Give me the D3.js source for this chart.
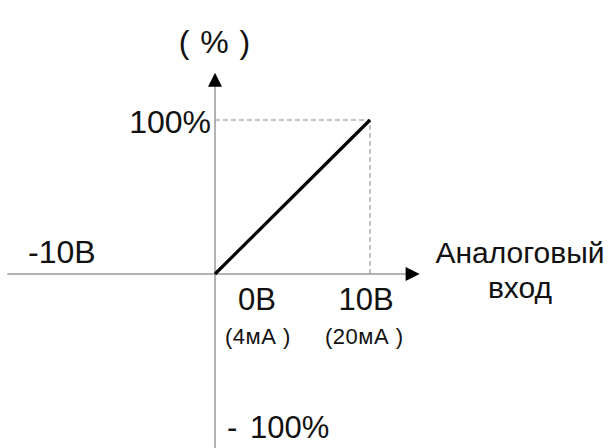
<!DOCTYPE html>
<html>
<head>
<meta charset="utf-8">
<script src="https://cdn.jsdelivr.net/npm/d3@7"></script>
<style>
  body { margin: 0; background: #fff; }
  text { font-family: "Liberation Sans", Arial, sans-serif; fill: #111; }
</style>
</head>
<body>
<svg id="chart"></svg>
<script>
// characteristic: analog input (V) -> output (%)
var inputV = [0, 10];
var outputPct = [0, 100];
var xAxisSpan = [-13.4, 13.2];   // volts
var yAxisSpan = [-113, 132];     // percent
var tickLabelsX = ["0В", "10В"];
var tickSubLabelsX = ["(4мА )", "(20мА )"];
var xAxisTitle = ["Аналоговый", "вход"];

var width = 609, height = 448;

var svg = d3.select("#chart")
            .attr("width", width)
            .attr("height", height);

var x = d3.scaleLinear().domain([0, 10]).range([215, 370]);
var y = d3.scaleLinear().domain([0, 100]).range([274, 120]);

var axisColor = "#9a9a9a";

// axes
svg.append("line")
   .attr("x1", x(xAxisSpan[0])).attr("x2", x(xAxisSpan[1]) - 12)
   .attr("y1", y(0)).attr("y2", y(0))
   .attr("stroke", axisColor).attr("stroke-width", 1.5);

svg.append("line")
   .attr("x1", x(0)).attr("x2", x(0))
   .attr("y1", y(yAxisSpan[0])).attr("y2", y(yAxisSpan[1]) + 12)
   .attr("stroke", axisColor).attr("stroke-width", 1.5);

// arrow heads
var xt = x(xAxisSpan[1]), yt = y(yAxisSpan[1]) + 2;
svg.append("path")
   .attr("d", "M" + xt + "," + y(0) + "L" + (xt - 14) + "," + (y(0) - 7) + "L" + (xt - 14) + "," + (y(0) + 7) + "Z")
   .attr("fill", "#000");
svg.append("path")
   .attr("d", "M" + x(0) + "," + yt + "L" + (x(0) - 7) + "," + (yt + 14) + "L" + (x(0) + 7) + "," + (yt + 14) + "Z")
   .attr("fill", "#000");

// dashed guides to the 100% point
var xmax = inputV[inputV.length - 1], ymax = outputPct[outputPct.length - 1];
svg.append("path")
   .attr("d", "M" + x(0) + "," + y(ymax) + "H" + x(xmax) + "V" + y(0))
   .attr("fill", "none")
   .attr("stroke", "#8a8a8a")
   .attr("stroke-width", 1)
   .attr("stroke-dasharray", "5,3");

// characteristic line
var line = d3.line()
             .x(function(d, i) { return x(inputV[i]); })
             .y(function(d) { return y(d); });

svg.append("path")
   .datum(outputPct)
   .attr("d", line)
   .attr("fill", "none")
   .attr("stroke", "#000")
   .attr("stroke-width", 3.2);

// labels
svg.append("text")
   .attr("x", x(0)).attr("y", 53)
   .attr("text-anchor", "middle")
   .style("font-size", "32px")
   .style("letter-spacing", "1px")
   .text("( % )");

svg.append("text")
   .attr("x", x(0) - 4).attr("y", y(100) + 13)
   .attr("text-anchor", "end")
   .style("font-size", "32px")
   .text("100%");

var neg = svg.append("text")
   .attr("y", y(-100) + 10)
   .style("font-size", "31px");
neg.append("tspan").attr("x", x(0) + 12).text("-");
neg.append("tspan").attr("x", x(0) + 35).text("100%");

svg.append("text")
   .attr("x", 28).attr("y", y(0) - 11)
   .style("font-size", "32px")
   .text("-10В");

svg.selectAll(".tick-main")
   .data(tickLabelsX)
   .enter().append("text")
   .attr("class", "tick-main")
   .attr("x", function(d, i) { return x(inputV[i]) + (i == 0 ? 42 : -4); })
   .attr("y", y(0) + 36)
   .attr("text-anchor", "middle")
   .style("font-size", "31px")
   .text(function(d) { return d; });

svg.selectAll(".tick-sub")
   .data(tickSubLabelsX)
   .enter().append("text")
   .attr("class", "tick-sub")
   .attr("x", function(d, i) { return x(inputV[i]) + (i == 0 ? 10 : -45); })
   .attr("y", y(0) + 70)
   .style("font-size", "22px")
   .style("letter-spacing", "0.5px")
   .text(function(d) { return d; });

svg.selectAll(".x-title")
   .data(xAxisTitle)
   .enter().append("text")
   .attr("class", "x-title")
   .attr("x", 520)
   .attr("y", function(d, i) { return y(0) - 11 + i * 35; })
   .attr("text-anchor", "middle")
   .style("font-size", "30px")
   .text(function(d) { return d; });
</script>
</body>
</html>
